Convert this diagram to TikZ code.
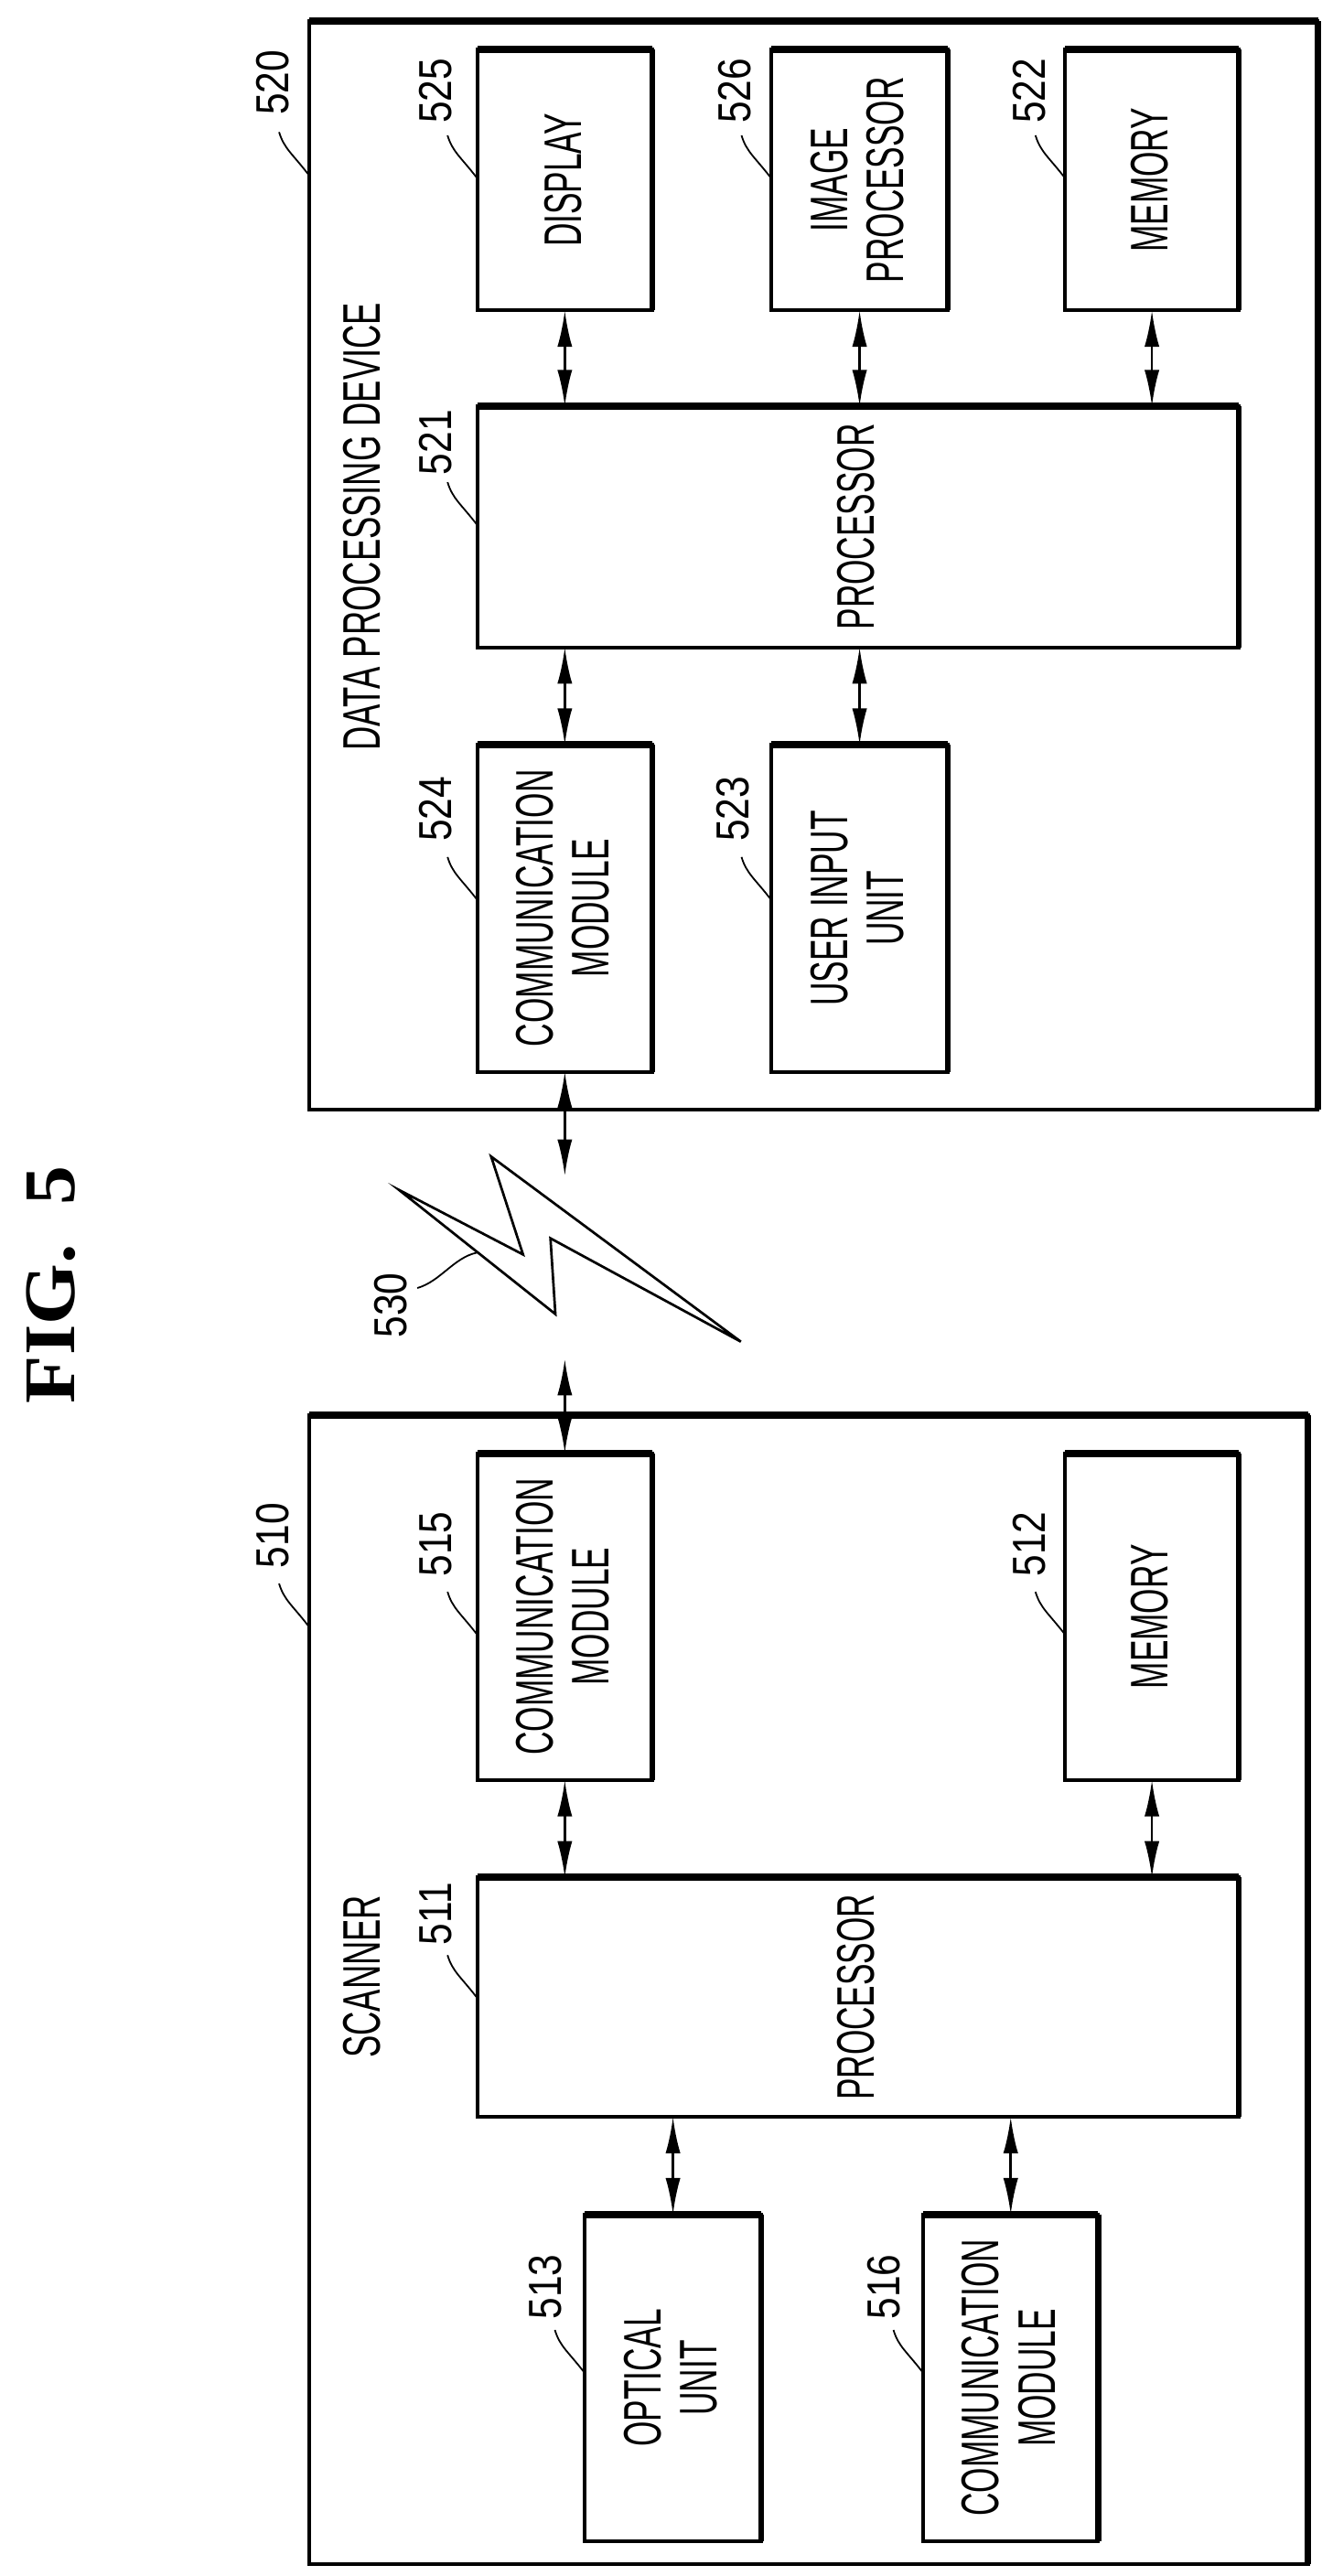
\documentclass[tikz,border=0pt]{standalone}
\usepackage{fontspec}
\setmainfont{Liberation Sans}[FakeStretch=0.61]
\newfontfamily\labelfont{Liberation Sans}[FakeStretch=0.63]
\newfontfamily\numfont{Liberation Sans}[FakeStretch=0.84]
\newfontfamily\figfont{Liberation Serif}[FakeStretch=1.08]
\usetikzlibrary{arrows.meta,calc}
\tikzset{
  blockbox/.style={draw=black,line width=2.2pt,fill=none,inner sep=0pt,outer sep=0pt,font=\fontsize{32}{34}\selectfont},
  duplex/.style={{Latex[length=22pt,width=9pt]}-{Latex[length=22pt,width=9pt]},line width=1.5pt},
  refnum/.style={inner sep=0pt,font=\numfont\fontsize{28}{34}\selectfont},
  boxtitle/.style={inner sep=0pt,font=\labelfont\fontsize{32}{34}\selectfont},
  leaderline/.style={line width=1pt},
  boltline/.style={line width=1.5pt,line join=miter,miter limit=12},
}
\newcommand{\blk}[6]{% name x1 y1 x2 y2 text
  \pgfmathsetmacro{\bcx}{(#2+#4)/2}\pgfmathsetmacro{\bcy}{(#3+#5)/2}
  \pgfmathsetmacro{\bwd}{#4-#2}\pgfmathsetmacro{\bht}{#5-#3}
  \node[blockbox,minimum width=\bwd pt,minimum height=\bht pt] (#1) at (\bcx,\bcy) {\hspace*{6pt}\rotatebox{90}{\begin{tabular}{@{}c@{}}#6\end{tabular}}};
  \draw[line width=4.4pt] (#1.north west) -- (#1.north east);
  \draw[line width=3.6pt] (#1.north east) -- (#1.south east);
}
\newcommand{\refn}[5]{% name x y targetbox-left-x target-y
  \node[refnum] (l#1) at (#2,#3) {\rotatebox{90}{#1}};
  \coordinate (ls#1) at (#4-18,#5-26);
  \coordinate (lt#1) at (#4,#5);
  \draw[leaderline] (ls#1) .. controls +(3,10) and +(-10,-13) .. (lt#1);
}
\begin{document}
\begin{tikzpicture}[x=1pt,y=-1pt]
\useasboundingbox (0,0) rectangle (800,1560);
\fill[white] (0,0) rectangle (800,1560);

% FIG. 5
\node[inner sep=0pt,font=\figfont\bfseries\fontsize{44}{50}\selectfont] (figlabel) at (31,778) {\rotatebox{90}{FIG.\ \ 5}};

% data processing device
\blk{b520}{187}{13}{798}{672}{}
\blk{b525}{289}{30}{395}{188}{DISPLAY}
\blk{b526}{467}{30}{574}{188}{IMAGE\\PROCESSOR}
\blk{b522}{645}{30}{750}{188}{MEMORY}
\blk{b521}{289}{246}{750}{392}{PROCESSOR}
\blk{b524}{289}{451}{395}{649}{COMMUNICATION\\MODULE}
\blk{b523}{467}{451}{574}{649}{USER INPUT\\UNIT}
\node[boxtitle] (t520) at (219,319) {\rotatebox{90}{DATA PROCESSING DEVICE}};

% scanner
\blk{b510}{187}{857}{792}{1553}{}
\blk{b515}{289}{880}{395}{1078}{COMMUNICATION\\MODULE}
\blk{b512}{645}{880}{750}{1078}{MEMORY}
\blk{b511}{289}{1137}{750}{1282}{PROCESSOR}
\blk{b513}{354}{1341}{461}{1539}{OPTICAL\\UNIT}
\blk{b516}{559}{1341}{665}{1539}{COMMUNICATION\\MODULE}
\node[boxtitle] (t510) at (219,1197) {\rotatebox{90}{SCANNER}};

% reference numerals
\refn{520}{165}{50}{187}{106}
\refn{525}{264}{55}{289}{108}
\refn{526}{445}{55}{467}{108}
\refn{522}{623}{55}{645}{108}
\refn{521}{264}{268}{289}{318}
\refn{524}{264}{490}{289}{545}
\refn{523}{444}{490}{467}{545}
\refn{510}{165}{930}{187}{985}
\refn{515}{264}{935}{289}{990}
\refn{512}{623}{935}{645}{990}
\refn{511}{264}{1159}{289}{1210}
\refn{513}{330}{1385}{354}{1437}
\refn{516}{535}{1385}{559}{1437}

% connectors
\draw[duplex] (b525.south) -- (b525.south |- b521.north);
\draw[duplex] (b526.south) -- (b526.south |- b521.north);
\draw[duplex] (b522.south) -- (b522.south |- b521.north);
\draw[duplex] (b521.south -| b524.north) -- (b524.north);
\draw[duplex] (b521.south -| b523.north) -- (b523.north);
\draw[duplex] (b515.south) -- (b515.south |- b511.north);
\draw[duplex] (b512.south) -- (b512.south |- b511.north);
\draw[duplex] (b511.south -| b513.north) -- (b513.north);
\draw[duplex] (b511.south -| b516.north) -- (b516.north);
\coordinate (wirelessA) at (342,712);
\coordinate (wirelessB) at (342,823);
\draw[duplex] (b524.south) -- (wirelessA);
\draw[duplex] (wirelessB) -- (b515.north);

% lightning bolt
\draw[boltline] (297.4,700.4) -- (448.6,812.5) -- (333.3,749.9) -- (336.3,795.8) -- (241.6,720.6) -- (316.7,759.7) -- cycle;
\coordinate (lsbolt) at (252.7,780);
\coordinate (ltbolt) at (288.7,758.6);
\node[refnum] (l530) at (236.6,790.6) {\rotatebox{90}{530}};
\draw[leaderline] (lsbolt) .. controls +(14,-4) and +(-14,3) .. (ltbolt);
\end{tikzpicture}
\end{document}
